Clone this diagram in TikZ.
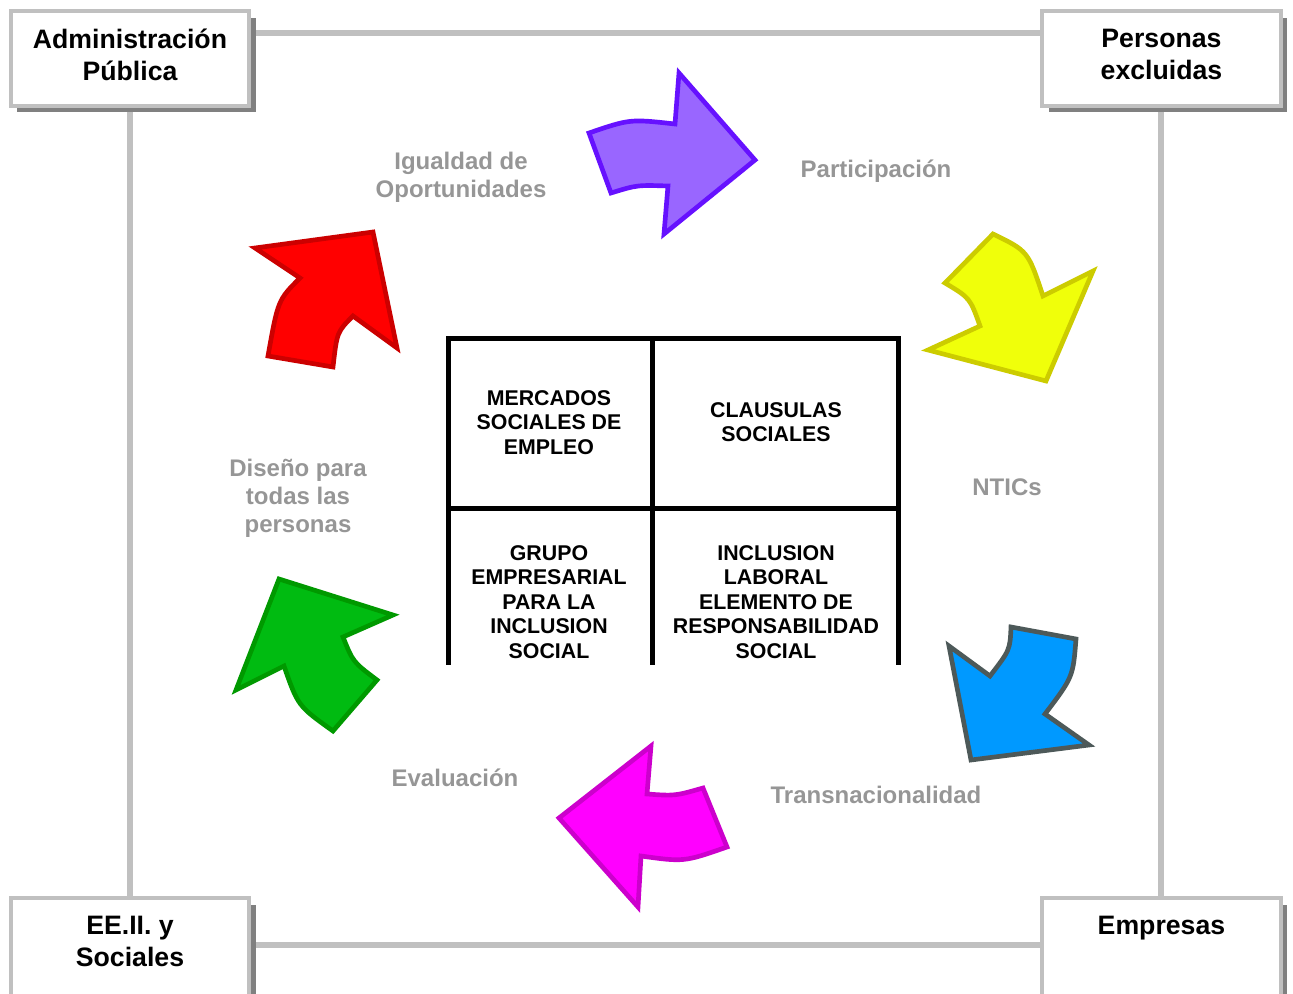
\documentclass[tikz,border=0pt]{standalone}
\usepackage{fontspec}
\setmainfont{Liberation Sans}
\usepackage{tikz}
\usetikzlibrary{positioning,shadows,backgrounds}
\definecolor{boxgray}{RGB}{192,192,192}
\definecolor{shadowgray}{RGB}{128,128,128}
\definecolor{labelgray}{RGB}{150,150,150}
\definecolor{purplefill}{RGB}{153,102,255}
\definecolor{purpleline}{RGB}{102,17,255}
\definecolor{yellowfill}{RGB}{240,255,10}
\definecolor{yellowline}{RGB}{204,204,0}
\definecolor{bluefill}{RGB}{0,153,255}
\definecolor{blueline}{RGB}{77,89,89}
\definecolor{magentafill}{RGB}{255,0,255}
\definecolor{magentaline}{RGB}{204,0,204}
\definecolor{greenfill}{RGB}{0,187,17}
\definecolor{greenline}{RGB}{0,153,0}
\definecolor{redfill}{RGB}{255,0,0}
\definecolor{redline}{RGB}{204,0,0}

\begin{document}
\begin{tikzpicture}[x=0.75pt,y=-0.75pt,node distance=773.6pt,font=\bfseries]
 \tikzstyle{cornerbox}=[draw=boxgray,line width=3pt,fill=white,minimum width=179pt,minimum height=71pt,inner sep=0pt,
   drop shadow={shadow xshift=5pt,shadow yshift=-5pt,fill=shadowgray,opacity=1}]
 \tikzstyle{cornertext}=[align=center,inner sep=0pt,font=\fontsize{20}{24}\selectfont\bfseries]
 \tikzstyle{cell}=[align=center,inner sep=0pt,font=\fontsize{16}{18.4}\selectfont\bfseries]
 \tikzstyle{topic}=[align=center,inner sep=0pt,text=labelgray,font=\fontsize{18}{21}\selectfont\bfseries]
 \tikzstyle{link}=[draw=boxgray,line width=4.5pt]
 \tikzstyle{gridline}=[line width=3.75pt]
 \tikzstyle{bigarrow}=[line width=3.5pt,line join=miter]

   \useasboundingbox (0,0) rectangle (1293,994);

   \node[cornerbox] (admin) at (130,58.5) {};
   \node[cornerbox] (personas) [right of = admin] {};
   \node[cornerbox,minimum height=75.5pt,node distance=667.5pt] (eeii) [below of = admin] {};
   \node[cornerbox,minimum height=75.5pt] (empresas) [right of = eeii] {};

   \node[cornertext,below=14.5pt of admin.north] (admintext) {Administración\\Pública};
   \node[cornertext,below=14.5pt of personas.north] (personastext) {Personas\\excluidas};
   \node[cornertext,below=14.5pt of eeii.north] (eeiitext) {EE.II. y\\Sociales};
   \node[cornertext,below=14.5pt of empresas.north] (empresastext) {Empresas};

   \begin{scope}[on background layer]
   \draw[link] ([yshift=19pt]admin.east) -- ([yshift=19pt]personas.west);
   \draw[link] (admin) -- (eeii);
   \draw[link] (personas) -- (empresas);
   \draw[link] ([yshift=2.6pt]eeii.east) -- ([yshift=2.6pt]empresas.west);
   \end{scope}

   \draw[gridline] (448,665) -- (448,338.5) -- (898.5,338.5) -- (898.5,665);
   \draw[gridline] (652.5,338.5) -- (652.5,665);
   \draw[gridline] (448,508.5) -- (898.5,508.5);

   \node[cell] (mercados) at (549,422.5) {MERCADOS\\SOCIALES DE\\EMPLEO};
   \node[cell] (clausulas) at (776,422) {CLAUSULAS\\SOCIALES};
   \node[cell] (grupo) at (549,602) {GRUPO\\EMPRESARIAL\\PARA LA\\INCLUSION\\SOCIAL};
   \node[cell] (inclusion) at (776,602) {INCLUSION\\LABORAL\\ELEMENTO DE\\RESPONSABILIDAD\\SOCIAL};

   \node[topic] (igualdad) at (461,177) {Igualdad de\\Oportunidades};
   \node[topic] (participacion) at (876,171) {Participación};
   \node[topic] (ntics) at (1007,487) {NTICs};
   \node[topic] (transnacionalidad) at (876,795) {Transnacionalidad};
   \node[topic] (evaluacion) at (455,778) {Evaluación};
   \node[topic] (diseno) at (298,498) {Diseño para\\todas las\\personas};

   \filldraw[bigarrow,fill=purplefill,draw=purpleline] (589,133) .. controls (630,119) .. (675,124)
     -- (679,73) -- (755,160) -- (664,234) -- (668,186) .. controls (637,185) .. (611,193) -- cycle;
   \filldraw[bigarrow,fill=yellowfill,draw=yellowline] (945,283) -- (993,234) .. controls (1028,251) .. (1043,296)
     -- (1093,271) -- (1046,381) -- (928,350) -- (980,326) .. controls (970,298) .. cycle;
   \filldraw[bigarrow,fill=bluefill,draw=blueline] (1011,627) -- (1076,639) .. controls (1073,677) .. (1045,714)
     -- (1089,745) -- (971,760) -- (949,646) -- (990,676) .. controls (1010,650) .. cycle;
   \filldraw[bigarrow,fill=magentafill,draw=magentaline] (703,788) -- (727,847) .. controls (684,862) .. (641,856)
     -- (638,907) -- (559,818) -- (651,746) -- (647,794) .. controls (675,796) .. cycle;
   \filldraw[bigarrow,fill=greenfill,draw=greenline] (279,579) -- (393,615) -- (343,637) .. controls (353,662) .. (377,680)
     -- (333,731) .. controls (298,706) .. (284,666) -- (236,690) -- cycle;
   \filldraw[bigarrow,fill=redfill,draw=redline] (255,248) -- (373,232) -- (397,348) -- (353,316) .. controls (337,332) .. (333,367)
     -- (268,356) .. controls (278,300) .. (300,278) -- cycle;

\end{tikzpicture}
\end{document}
